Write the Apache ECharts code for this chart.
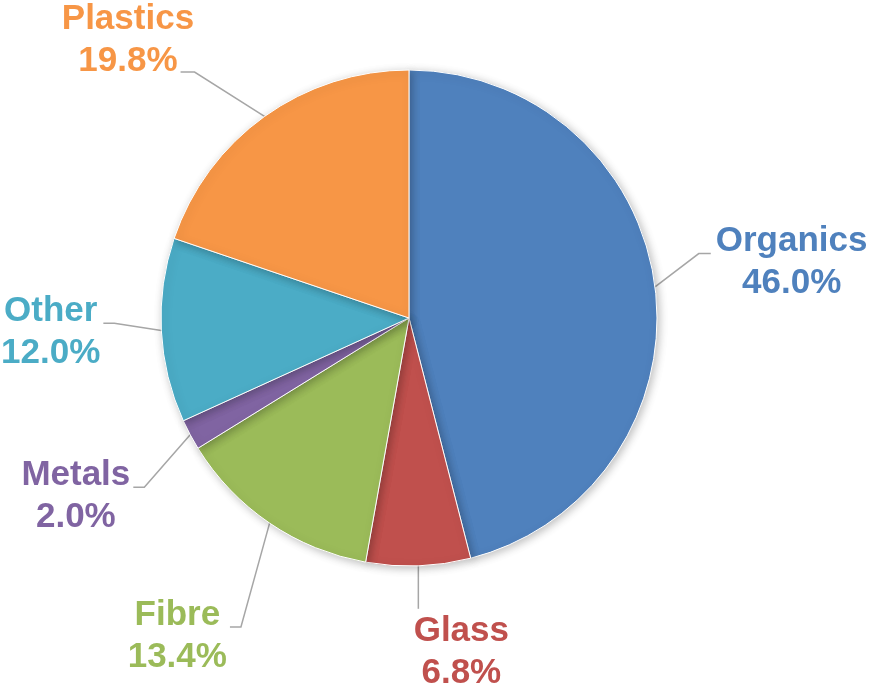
<!DOCTYPE html>
<html>
<head>
<meta charset="utf-8">
<script src="https://cdn.jsdelivr.net/npm/echarts@6/dist/echarts.min.js"></script>
<style>
html,body{margin:0;padding:0;background:#fff;}
#chart{width:874px;height:686px;}
</style>
</head>
<body>
<div id="chart"></div>
<script>
const categories = ['Organics', 'Glass', 'Fibre', 'Metals', 'Other', 'Plastics'];
const shares = [46.0, 6.8, 13.4, 2.0, 12.0, 19.8];
const colors = ['#4F81BD', '#C0504D', '#9BBB59', '#8064A2', '#4BACC6', '#F79646'];
// label nudges from the library's default outside position (layout only)
const labelShift = [[7, -20], [-25, 52], [-4, 84], [-10, 45], [-7, 0], [-31, -48]];

const FONT = 'Liberation Sans';
const FONT_SIZE = 35;
const LINE_H = 42;
const measureCtx = document.createElement('canvas').getContext('2d');
measureCtx.font = 'bold ' + FONT_SIZE + 'px "' + FONT + '"';
const pctText = v => v.toFixed(1) + '%';

const chart = echarts.init(document.getElementById('chart'), null, {renderer: 'canvas'});
const data = categories.map((name, i) => ({
  name: name,
  value: shares[i],
  itemStyle: {color: colors[i]},
  label: {color: colors[i]}
}));

chart.setOption({
  animation: false,
  backgroundColor: '#ffffff',
  series: [{
    type: 'pie',
    center: [409, 318],
    radius: 248,
    startAngle: 90,
    clockwise: true,
    avoidLabelOverlap: false,
    data: data,
    itemStyle: {
      borderColor: '#ffffff',
      borderWidth: 1,
      shadowBlur: 8,
      shadowColor: 'rgba(0,0,0,0.25)',
      shadowOffsetX: 2,
      shadowOffsetY: 2
    },
    label: {
      show: true,
      position: 'outside',
      formatter: p => p.name + '\n' + pctText(p.value),
      fontFamily: FONT,
      fontWeight: 'bold',
      fontSize: FONT_SIZE,
      lineHeight: LINE_H
    },
    labelLine: {
      show: true,
      length: 35,
      length2: 14,
      lineStyle: {color: '#A6A6A6', width: 1.5}
    },
    labelLayout: function (params) {
      const i = params.dataIndex;
      const r = params.labelRect;
      const cx = r.x + r.width / 2 + labelShift[i][0];
      const cy = r.y + r.height / 2 + labelShift[i][1];
      const hw = r.width / 2, hh = r.height / 2;
      const s = params.labelLinePoints[0];
      let pts;
      if (s[0] > cx - hw && s[0] < cx + hw && s[1] < cy) {
        pts = [s, [s[0], cy - hh - 2], [s[0], cy - hh - 2]];
      } else if (s[0] <= cx - hw) {
        const end = [cx - hw - 5, cy - 9];
        pts = [s, [end[0] - 12, end[1]], end];
      } else if (s[1] > cy + hh) {
        const w2 = measureCtx.measureText(pctText(shares[i])).width;
        const end = [cx + w2 / 2 + 3, cy + 32];
        pts = [s, [end[0] + 14, end[1]], end];
      } else {
        const end = [cx + hw + 3, cy - 9];
        pts = [s, [end[0] + 11, end[1]], end];
      }
      return {
        x: cx,
        y: cy,
        align: 'center',
        verticalAlign: 'middle',
        labelLinePoints: pts
      };
    }
  }]
});
</script>
</body>
</html>
